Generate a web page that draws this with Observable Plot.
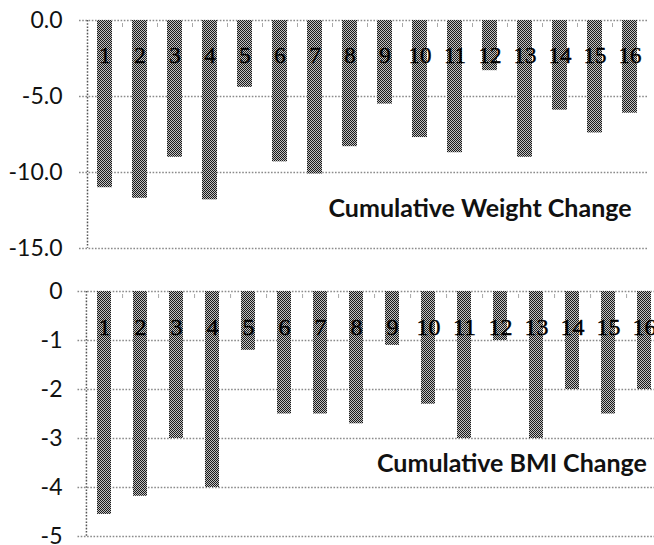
<!DOCTYPE html>
<html><head><meta charset="utf-8">
<script src="https://cdn.jsdelivr.net/npm/d3@7"></script>
<script src="https://cdn.jsdelivr.net/npm/@observablehq/plot@0.6"></script>
<style>
body{margin:0;background:#fff;width:654px;height:545px;overflow:hidden;}
#wrap{width:654px;overflow:hidden;}
#wrap svg{display:block;max-width:none !important;}
</style></head>
<body><div id="wrap"></div>
<script>
const subjects = ["1","2","3","4","5","6","7","8","9","10","11","12","13","14","15","16"];
const weightChange = [-11.0, -11.7, -9.0, -11.8, -4.4, -9.3, -10.1, -8.3, -5.5, -7.7, -8.7, -3.3, -9.0, -5.9, -7.4, -6.1];
const bmiChange = [-4.55, -4.18, -3.0, -4.0, -1.2, -2.5, -2.5, -2.7, -1.1, -2.3, -3.0, -1.0, -3.0, -2.0, -2.5, -2.0];
const weightTicks = [0, -5, -10, -15];
const bmiTicks = [0, -1, -2, -3, -4, -5];
const weightTitle = "Cumulative Weight Change";
const bmiTitle = "Cumulative BMI Change";

const weightData = subjects.map((s, i) => ({subject: s, value: weightChange[i]}));
const bmiData = subjects.map((s, i) => ({subject: s, value: bmiChange[i]}));

function addPattern(svg, id) {
  d3.select(svg).insert("defs", ":first-child").html(
    `<pattern id="${id}" width="2" height="2" patternUnits="userSpaceOnUse">
       <rect width="2" height="2" fill="#c0c0c0"/>
       <rect width="1" height="1" fill="#1a1a1a"/>
       <rect x="1" y="1" width="1" height="1" fill="#1a1a1a"/>
     </pattern>`);
}

function panel({data, ticks, fmt, domain, title, width, height, mt, mb, ml, mr, padding, labelDy, labelSize, titleDx, titleDy, titleSize, tickPad, pid}) {
  const step = (width - ml - mr) / subjects.length;
  const dotted = {stroke: "#8a8a8a", strokeWidth: 1.3, strokeDasharray: "1.6,1.6"};
  const svg = Plot.plot({
    width, height,
    marginTop: mt, marginBottom: mb, marginLeft: ml, marginRight: mr,
    x: {domain: subjects, paddingInner: padding, paddingOuter: padding / 2, axis: null},
    y: {domain, axis: null},
    marks: [
      Plot.ruleY(ticks, {...dotted, insetLeft: -8}),
      Plot.ruleX([subjects[0]], {stroke: "#555", strokeWidth: 1.5, strokeDasharray: "1.6,1.6", dx: -step / 2}),
      Plot.ruleX(subjects.slice(0, -1), {y1: 0, y2: 0, insetTop: 3, insetBottom: -7, dx: step / 2, stroke: "#aaa", strokeWidth: 1}),
      Plot.barY(data, {x: "subject", y: "value", fill: `url(#${pid})`}),
      Plot.text(data, {x: "subject", text: "subject", frameAnchor: "top", lineAnchor: "middle", dy: labelDy,
        fontFamily: "Liberation Serif", fontSize: labelSize, fill: "#000", stroke: "#000", strokeWidth: 0.4}),
      Plot.axisY({ticks, tickFormat: fmt, tickSize: 0, tickPadding: tickPad, fontSize: 23, label: null,
        fontFamily: "Lato", fill: "#111"}),
      Plot.text([title], {frameAnchor: "top-left", dx: titleDx, dy: titleDy, textAnchor: "start",
        lineAnchor: "middle", fontFamily: "Lato", fontWeight: "bold", fontSize: titleSize, fill: "#111"})
    ]
  });
  addPattern(svg, pid);
  return svg;
}

const wrap = document.getElementById("wrap");
wrap.appendChild(panel({
  data: weightData, ticks: weightTicks, fmt: d => d.toFixed(1), domain: [-15, 0],
  title: weightTitle, width: 654, height: 270, mt: 20, mb: 22, ml: 87, mr: 7,
  padding: 0.57, labelDy: 35, labelSize: 23, titleDx: 241, titleDy: 188, titleSize: 25, tickPad: 25, pid: "chk1"
}));
wrap.appendChild(panel({
  data: bmiData, ticks: bmiTicks, fmt: d => String(d), domain: [-5, 0],
  title: bmiTitle, width: 670, height: 275, mt: 21, mb: 9, ml: 85.5, mr: 6.3,
  padding: 0.6, labelDy: 36, labelSize: 24, titleDx: 291, titleDy: 172, titleSize: 25, tickPad: 23.5, pid: "chk2"
}));
</script>
</body></html>
